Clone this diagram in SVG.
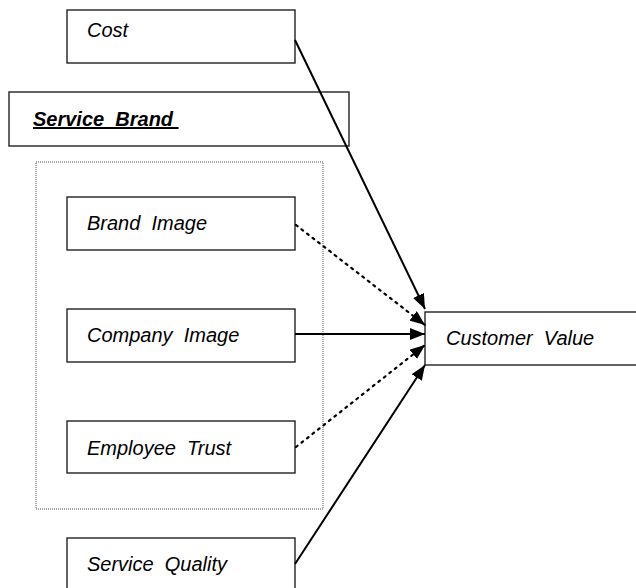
<svg xmlns="http://www.w3.org/2000/svg" width="636" height="588" viewBox="0 0 636 588">
<style>
.box{fill:#fff;stroke:#222;stroke-width:1.4}
.lbl{font-family:"Liberation Sans",Arial,sans-serif;font-size:20px;font-style:italic;fill:#000;white-space:pre}
.ttl{font-family:"Liberation Sans",Arial,sans-serif;font-size:20px;font-style:italic;font-weight:bold;fill:#000;white-space:pre;text-decoration:underline}
.solid{stroke:#000;stroke-width:2;fill:none}
.dot{stroke:#000;stroke-width:2.2;fill:none;stroke-dasharray:2 5;stroke-linecap:round}
</style>
<defs>
<marker id="ah" markerUnits="userSpaceOnUse" markerWidth="16" markerHeight="12" refX="15" refY="6" orient="auto">
<path d="M0,0 L15,6 L0,12 z" fill="#000"/>
</marker>
</defs>
<rect x="0" y="0" width="636" height="588" fill="#fff"/>
<g id="service-brand-group">
<rect x="36" y="162" width="287" height="347" fill="none" stroke="#555" stroke-width="1" stroke-dasharray="1 1"/>
</g>
<g id="cost"><rect class="box" x="67" y="10" width="228" height="53"/><text class="lbl" x="87" y="37">Cost</text></g>
<g id="service-brand"><rect class="box" x="9" y="92" width="340" height="54" stroke="#555"/><text class="ttl" x="33" y="126">Service  Brand </text></g>
<g id="brand-image"><rect class="box" x="67" y="197" width="228" height="53"/><text class="lbl" x="87" y="230">Brand  Image</text></g>
<g id="company-image"><rect class="box" x="67" y="309" width="228" height="53"/><text class="lbl" x="87" y="342">Company  Image</text></g>
<g id="employee-trust"><rect class="box" x="67" y="421" width="228" height="52"/><text class="lbl" x="87" y="455">Employee  Trust</text></g>
<g id="service-quality"><rect class="box" x="67" y="538" width="228" height="60"/><text class="lbl" x="87" y="571">Service  Quality</text></g>
<g id="customer-value"><rect class="box" x="425" y="312" width="220" height="53" stroke="#555"/><text class="lbl" x="446" y="345">Customer  Value</text></g>
<g id="connectors">
<line class="solid" x1="295" y1="40" x2="425" y2="309" marker-end="url(#ah)"/>
<line class="dot" x1="296" y1="225" x2="425" y2="325" marker-end="url(#ah)"/>
<line class="solid" x1="295" y1="334" x2="425" y2="334" marker-end="url(#ah)"/>
<line class="dot" x1="296" y1="447" x2="425" y2="345" marker-end="url(#ah)"/>
<line class="solid" x1="295" y1="564" x2="425" y2="365" marker-end="url(#ah)"/>
</g>
</svg>
